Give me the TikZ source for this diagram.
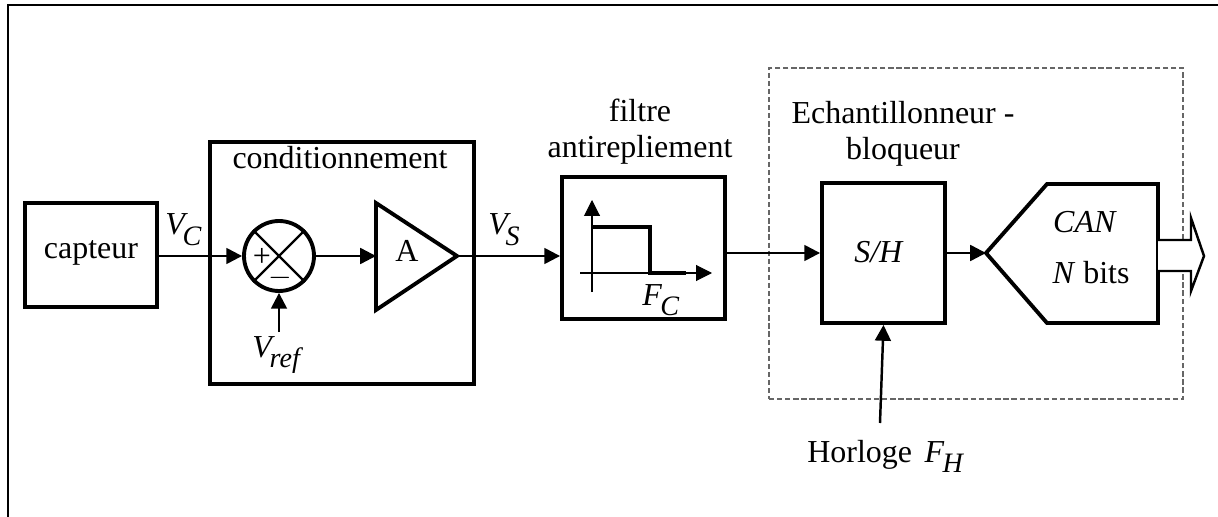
\documentclass[tikz,border=0pt]{standalone}
\usepackage{fontspec}
\setmainfont{Liberation Serif}
\usetikzlibrary{arrows.meta, positioning, shapes.geometric}
\newcommand{\sigsub}[3][-1pt]{\textit{#2}\kern#1\raisebox{-6pt}{\fontsize{16}{19}\selectfont\textit{#3}}}

\begin{document}
\begin{tikzpicture}[
				x=0.02cm, y=-0.02cm,
				mod/.style={draw, line width=2.2pt, inner sep=0pt},
				lbl/.style={inner sep=0pt, font=\fontsize{18.2}{22}\selectfont},
				sig/.style={line width=1.4pt, -{Triangle[length=9pt, width=9pt]}},
				>={Triangle[length=9pt, width=9pt]}
			]
				\useasboundingbox (0,0) rectangle (1218,517);

				\coordinate (framebl) at (8,517);
				\coordinate (frametl) at (8,5);
				\coordinate (frametr) at (1218,5);
				\draw[line width=1.4pt] (framebl) -- (frametl) -- (frametr);

				\node[draw, gray!80!black, line width=0.6pt, dash pattern=on 3pt off 1.6pt, minimum width=414*0.02cm, minimum height=331*0.02cm, inner sep=0pt] (echblock) at (976,233.5) {};

				\node[mod, minimum width=132*0.02cm, minimum height=104*0.02cm] (capteur) at (91,255) {};
				\node[lbl, anchor=base] (capteurtxt) at (91,258) {capteur};

				\node[mod, minimum width=264*0.02cm, minimum height=242*0.02cm] (cond) at (342,263) {};
				\node[lbl, anchor=base] (condtxt) at (340,169) {conditionnement};

				\node[draw, circle, line width=2.2pt, minimum size=70*0.02cm, inner sep=0pt] (sum) at (279,256) {};
				\draw[line width=1.4pt] (sum.45) -- (sum.225);
				\draw[line width=1.4pt] (sum.135) -- (sum.315);
				\node[lbl, anchor=center] (plus) at (262,257) {+};
				\node[lbl, anchor=center] (minus) at (280,278) {$-$};

				\coordinate (ampliin) at (376,256);
				\coordinate (amplit) at (376,203);
				\coordinate (ampliout) at (457,256);
				\coordinate (amplib) at (376,310);
				\draw[line width=2.2pt] (amplit) -- (ampliout) -- (amplib) -- cycle;
				\node[lbl] (amplitxt) at (407,251) {A};

				\coordinate (vrefstart) at (279,332);
				\draw[sig] (vrefstart) -- (sum.south);
				\node[lbl, anchor=base west] (vref) at (252,357) {\sigsub[-3pt]{V}{ref}};
				\node[lbl, anchor=base west] (vc) at (165,235) {\sigsub[-3pt]{V}{C}};
				\node[lbl, anchor=base west] (vs) at (488,235) {\sigsub[-3pt]{V}{S}};

				\node[mod, minimum width=163*0.02cm, minimum height=142*0.02cm] (filtre) at (643.5,248) {};
				\node[lbl, anchor=base] (filtretxt) at (640,122) {filtre};
				\node[lbl, anchor=base] (antitxt) at (640,158) {antirepliement};

				\coordinate (yaxisb) at (592,292);
				\coordinate (yaxist) at (592,200);
				\coordinate (xaxisl) at (580,273);
				\coordinate (xaxisr) at (712,273);
				\draw[line width=0.6pt, ->] (yaxisb) -- (yaxist);
				\draw[line width=0.6pt, ->] (xaxisl) -- (xaxisr);
				\coordinate (gain0) at (592,227);
				\coordinate (gain1) at (650,227);
				\coordinate (gain2) at (650,273);
				\coordinate (gain3) at (686,273);
				\draw[line width=2.2pt] (gain0) -- (gain1) -- (gain2) -- (gain3);
				\node[lbl, anchor=base west] (fc) at (642,305) {\sigsub{F}{C}};

				\node[mod, minimum width=123*0.02cm, minimum height=140*0.02cm] (shold) at (883.5,253) {};
				\node[lbl, anchor=base] (sholdtxt) at (879,262) {\textit{S/H}};
				\node[lbl, anchor=base] (echtxt) at (903,124) {Echantillonneur -};
				\node[lbl, anchor=base] (bloqtxt) at (903,160) {bloqueur};

				\coordinate (canin) at (986,253);
				\coordinate (cantl) at (1047,184);
				\coordinate (cantr) at (1158,184);
				\coordinate (canbr) at (1158,323);
				\coordinate (canbl) at (1047,323);
				\draw[line width=2.2pt] (canin) -- (cantl) -- (cantr) -- (canbr) -- (canbl) -- cycle;
				\node[lbl, anchor=base] (cantxt) at (1085,233) {\textit{CAN}};
				\node[lbl, anchor=base] (nbitstxt) at (1091,283) {\textit{N} bits};

				\coordinate (outa) at (1158,240);
				\coordinate (outb) at (1191,240);
				\coordinate (outc) at (1191,218);
				\coordinate (outd) at (1204,256);
				\coordinate (oute) at (1191,291);
				\coordinate (outf) at (1191,271);
				\coordinate (outg) at (1158,271);
				\fill[white] (outa) -- (outb) -- (outc) -- (outd) -- (oute) -- (outf) -- (outg) -- cycle;
				\draw[line width=1.4pt] (outa) -- (outb) -- (outc) -- (outd) -- (oute) -- (outf) -- (outg);

				\coordinate (horlstart) at (880,423);
				\draw[sig] (horlstart) -- (shold.south);
				\node[lbl, anchor=base west] (horloge) at (807,462) {Horloge\ \kern2.5pt\sigsub{F}{H}};

				\draw[sig] (capteur.east |- sum.west) -- (sum.west);
				\draw[sig] (sum.east) -- (ampliin);
				\draw[sig] (ampliout) -- (filtre.west |- ampliout);
				\draw[sig] (filtre.east |- shold.west) -- (shold.west);
				\draw[sig] (shold.east) -- (canin);
			\end{tikzpicture}
\end{document}
